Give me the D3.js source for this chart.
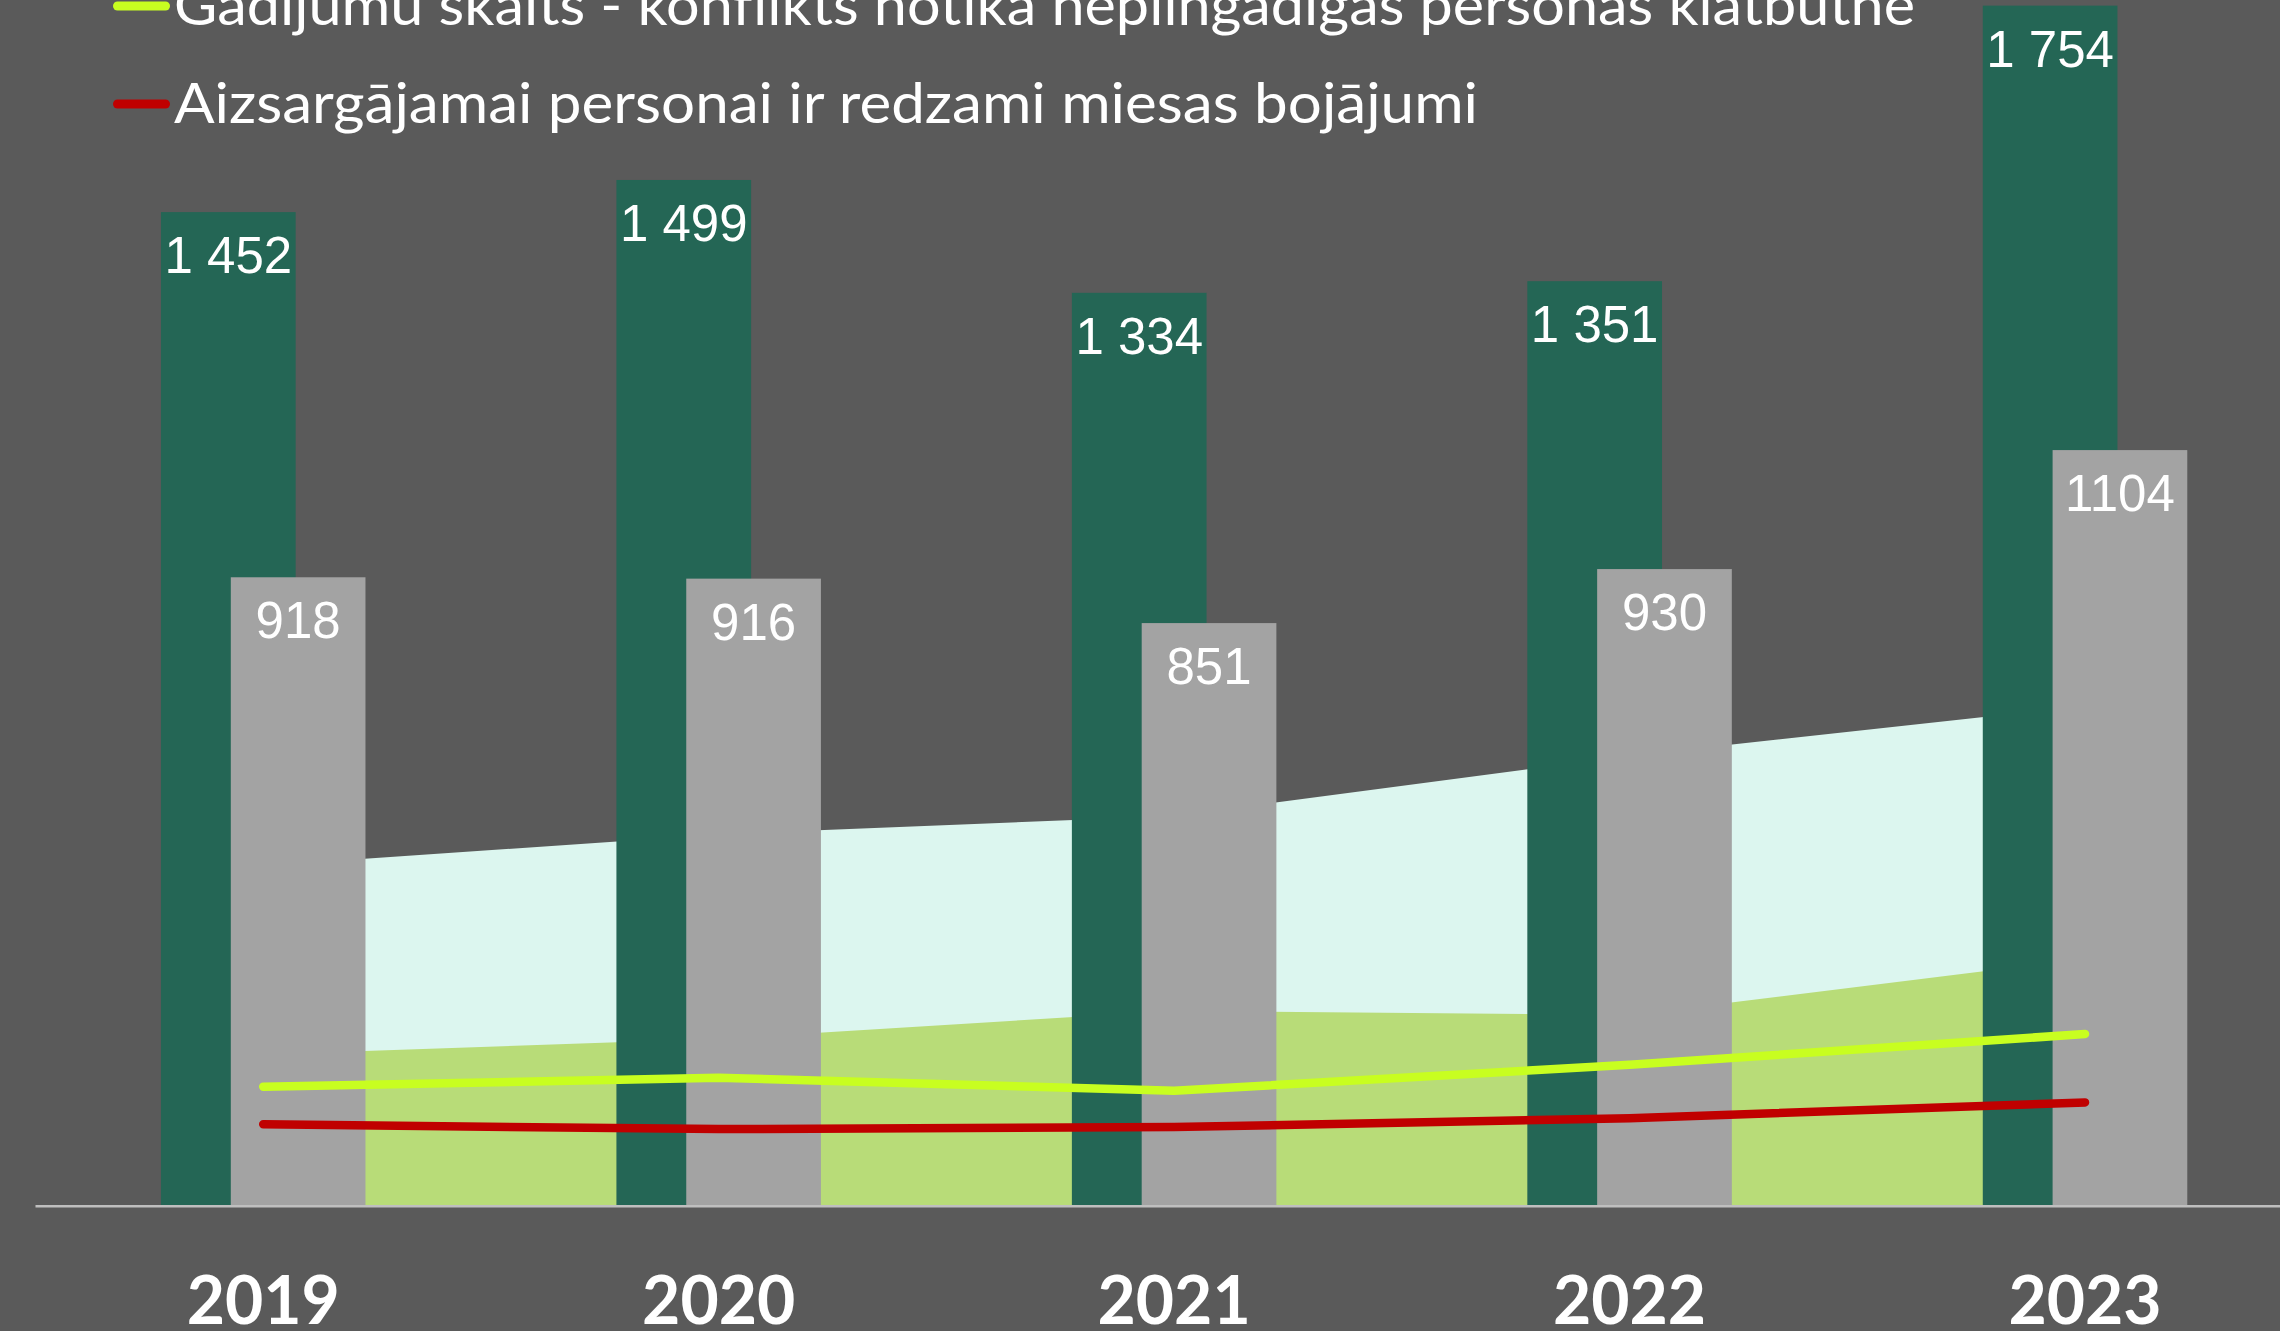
<!DOCTYPE html>
<html>
<head>
<meta charset="utf-8">
<script src="https://cdn.jsdelivr.net/npm/d3@7/dist/d3.min.js"></script>
<style>
  html, body { margin: 0; padding: 0; background: #5a5a5a; }
  svg { display: block; }
</style>
</head>
<body>
<svg id="chart" width="2280" height="1331"></svg>
<script>
// data
const years = ["2019", "2020", "2021", "2022", "2023"];
const casesTotal = [1452, 1499, 1334, 1351, 1754];      // dark green bars
const casesGray = [918, 916, 851, 930, 1104];           // grey bars
const areaUpper = [496, 542, 569, 657, 730];            // mint area
const areaLower = [220, 243, 284, 278, 360];            // light green area
const minorPresent = [173, 186, 167, 205, 250];         // yellow-green line
const injuriesSeen = [118, 111, 114, 127, 150];         // red line

const legendItems = [
    { label: "Gadījumu skaits - konflikts notika nepilngadīgas personas klātbūtnē", color: "#c8fe20", len: 1741 },
    { label: "Aizsargājamai personai ir redzami miesas bojājumi", color: "#c00000", len: 1304 }
];

const W = 2280, H = 1331;
const baseY = 1205;
const pxPerUnit = 0.6838;
const step = 455.45;
const left = 35.5;

const svg = d3.select("#chart");

const x = d3.scaleBand()
    .domain(years)
    .range([left, left + years.length * step])
    .padding(0);
const cx = d => x(d) + x.bandwidth() / 2;

const y = d3.scaleLinear()
    .domain([0, 1800])
    .range([baseY, baseY - 1800 * pxPerUnit]);

const groupW = step * 0.449;
const barW = step * 0.2957;

const fmtSpace = d3.formatLocale({ decimal: ",", thousands: " ", grouping: [3], currency: ["", ""] }).format(",d");
const fmtPlain = d3.format("d");

// areas behind the bars
const area = d3.area()
    .x((d, i) => cx(years[i]))
    .y0(y(0))
    .y1(d => y(d));

svg.append("path").datum(areaUpper)
    .attr("d", area)
    .attr("fill", "#dcf6ef");

svg.append("path").datum(areaLower)
    .attr("d", area)
    .attr("fill", "#b8dc78");

// bars
svg.append("g").selectAll("rect")
    .data(casesTotal)
    .join("rect")
    .attr("x", (d, i) => cx(years[i]) - groupW / 2)
    .attr("width", barW)
    .attr("y", d => y(d))
    .attr("height", d => y(0) - y(d))
    .attr("fill", "#246655");

svg.append("g").selectAll("rect")
    .data(casesGray)
    .join("rect")
    .attr("x", (d, i) => cx(years[i]) + groupW / 2 - barW)
    .attr("width", barW)
    .attr("y", d => y(d))
    .attr("height", d => y(0) - y(d))
    .attr("fill", "#a3a3a3");

// axis line
svg.append("line")
    .attr("x1", left).attr("x2", W)
    .attr("y1", baseY + 1.2).attr("y2", baseY + 1.2)
    .attr("stroke", "#bfbfbf")
    .attr("stroke-width", 2.5);

// lines
const line = d3.line()
    .x((d, i) => cx(years[i]))
    .y(d => y(d));

[[minorPresent, "#c8fe20"], [injuriesSeen, "#c00000"]].forEach(([vals, col]) => {
    svg.append("path").datum(vals)
        .attr("d", line)
        .attr("fill", "none")
        .attr("stroke", col)
        .attr("stroke-width", 8.5)
        .attr("stroke-linecap", "round")
        .attr("stroke-linejoin", "round");
});

// value labels (inside end)
const labelFont = "'Liberation Sans', Arial, sans-serif";
svg.append("g").selectAll("text")
    .data(casesTotal)
    .join("text")
    .attr("x", (d, i) => cx(years[i]) - groupW / 2 + barW / 2)
    .attr("y", d => y(d) + 61)
    .attr("text-anchor", "middle")
    .attr("font-family", labelFont)
    .attr("font-size", 51)
    .attr("fill", "#ffffff")
    .text(d => fmtSpace(d));

svg.append("g").selectAll("text")
    .data(casesGray)
    .join("text")
    .attr("x", (d, i) => cx(years[i]) + groupW / 2 - barW / 2)
    .attr("y", d => y(d) + 61)
    .attr("text-anchor", "middle")
    .attr("font-family", labelFont)
    .attr("font-size", 51)
    .attr("fill", "#ffffff")
    .text(d => fmtPlain(d));

// year labels
svg.append("g").selectAll("text")
    .data(years)
    .join("text")
    .attr("x", d => cx(d))
    .attr("y", 1324)
    .attr("text-anchor", "middle")
    .attr("font-family", "Lato, 'Liberation Sans', sans-serif")
    .attr("font-weight", "bold")
    .attr("font-size", 66)
    .attr("fill", "#ffffff")
    .text(d => d);

// legend (top part is cut off in the original)
const legend = svg.append("g");
legendItems.forEach((it, i) => {
    const ly = 25 + i * 98;
    legend.append("line")
        .attr("x1", 117.5).attr("x2", 165.5)
        .attr("y1", ly - 19).attr("y2", ly - 19)
        .attr("stroke", it.color)
        .attr("stroke-width", 9)
        .attr("stroke-linecap", "round");
    legend.append("text")
        .attr("x", 174)
        .attr("y", ly)
        .attr("font-family", "Lato, 'Open Sans', sans-serif")
        .attr("font-size", 57)
        .attr("fill", "#ffffff")
        .attr("textLength", it.len)
        .attr("lengthAdjust", "spacingAndGlyphs")
        .text(it.label);
});
</script>
</body>
</html>
